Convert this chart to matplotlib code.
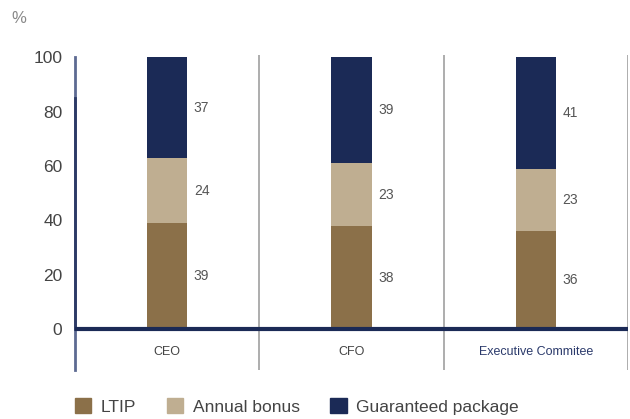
import numpy as np
import matplotlib
matplotlib.use("Agg")
import matplotlib.pyplot as plt
from matplotlib.patches import Patch

plt.rcParams['font.family'] = ['Liberation Sans', 'DejaVu Sans']

# data
roles = ["CEO", "CFO", "Executive Commitee"]
ltip = [39, 38, 36]
bonus = [24, 23, 23]
guaranteed = [37, 39, 41]
series_names = ["LTIP", "Annual bonus", "Guaranteed package"]
colors = ["#8b7049", "#bfae91", "#1b2a56"]

fig = plt.figure(figsize=(6.3, 4.19), dpi=100)
ax = fig.add_axes([0.119, 0.117, 0.878, 0.752])

x = np.arange(len(roles))
w = 0.22
bottom = np.zeros(len(roles))
for vals, col in zip([ltip, bonus, guaranteed], colors):
    ax.bar(x, vals, w, bottom=bottom, color=col, zorder=2)
    for xi, b, v in zip(x, bottom, vals):
        ax.text(xi + w / 2 + 0.035, b + v / 2, str(v), ha='left', va='center',
                fontsize=10, color='#555555')
    bottom += np.array(vals)

ax.set_xlim(-0.5, 2.5)
ax.set_ylim(-15.0, 100.9)
ax.set_yticks([0, 20, 40, 60, 80, 100])
ax.tick_params(axis='y', length=0, labelsize=12.5, labelcolor='#444444', pad=9)
ax.set_xticks([])
for s in ax.spines.values():
    s.set_visible(False)

# separators
for xs in [0.5, 1.5, 2.5]:
    ax.axvline(xs, color='#a0a0a0', lw=1.2, zorder=1)
# left axis line
ax.plot([-0.5, -0.5], [-15, 100], color='#5d6a92', lw=2, zorder=1, clip_on=False)
ax.plot([-0.5, -0.5], [0, 85], color='#2c3a66', lw=2, zorder=1.5, clip_on=False)
# zero line
ax.axhline(0, color='#1b2a56', lw=3, zorder=3)

label_colors = ['#444444', '#444444', '#2b3a6b']
for xi, r, c in zip(x, roles, label_colors):
    ax.text(xi, -8.5, r, ha='center', va='center', fontsize=9, color=c)

fig.text(0.018, 0.955, "%", fontsize=12, color='#888888', ha='left', va='center')

handles = [Patch(color=c, label=n) for c, n in zip(colors, series_names)]
leg = fig.legend(handles=handles, loc='center left', bbox_to_anchor=(0.094, 0.03),
                 ncol=3, frameon=False, fontsize=12.5, handlelength=0.95,
                 handleheight=0.95, handletextpad=0.55, columnspacing=1.75)
for t in leg.get_texts():
    t.set_color('#444444')

fig.savefig("out.png", dpi=100)
